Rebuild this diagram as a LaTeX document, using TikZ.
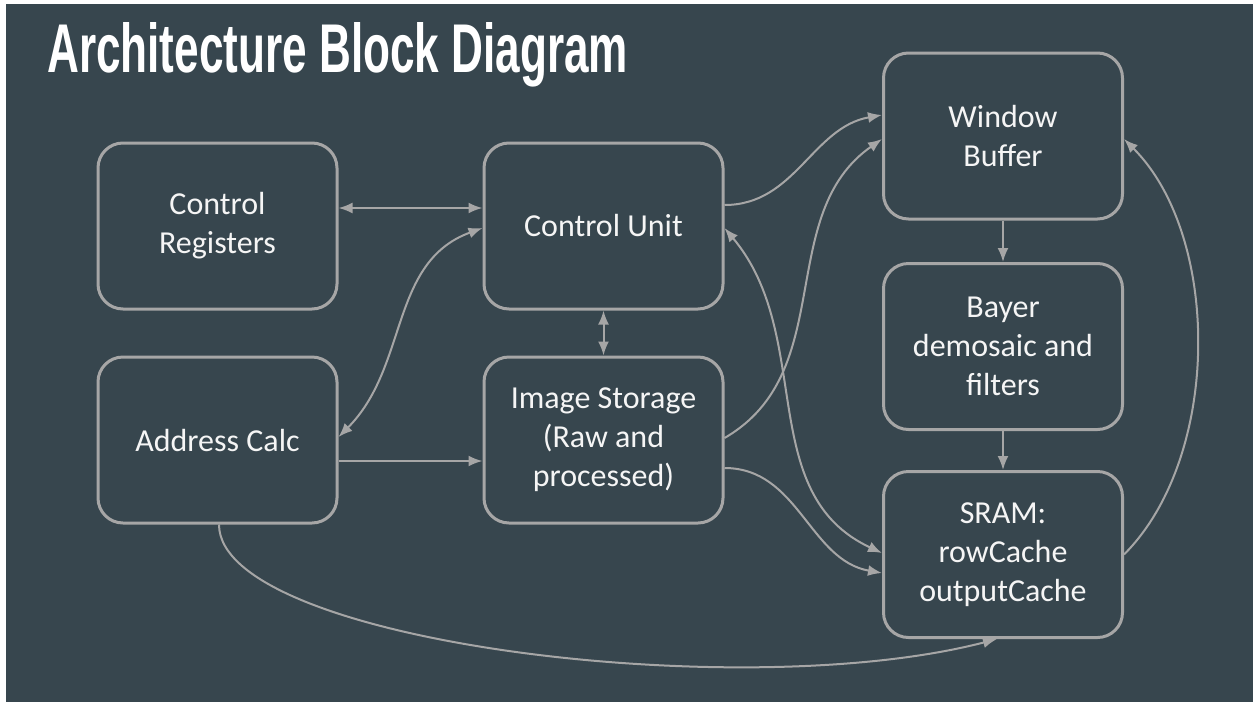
\documentclass[tikz,border=0pt]{standalone}
\usepackage{fontspec}
\setmainfont{Carlito}
\newfontfamily\titlefont{Liberation Sans}
\usepackage{tikz}
\usetikzlibrary{arrows.meta}
\tikzset{>={Latex[width=11pt,length=14pt]}}
\definecolor{slateBg}{RGB}{55,70,78}
\definecolor{wireGray}{RGB}{166,166,166}
\definecolor{labelWhite}{RGB}{245,245,245}

\begin{document}
\begin{tikzpicture}[
    x = 1pt, y = 1pt,
    box/.style = {draw=wireGray, line width=3pt, rounded corners=25pt,
        fill=slateBg, text=labelWhite, align=center,
        minimum width=239pt, minimum height=166pt, inner sep=0pt,
        font=\fontsize{32}{39}\selectfont},
    wire/.style = {draw=wireGray, line width=2pt}
  ]
  \useasboundingbox (0,0) rectangle (1253,-702);
  \fill[white] (0,0) rectangle (1253,-702);
  \fill[slateBg] (6,-4) rectangle (1253,-702);

  \node[anchor=base west, inner sep=0pt, text=white] (title) at (47,-72)
    {\resizebox{581pt}{50pt}{\titlefont\bfseries Architecture Block Diagram}};

  \foreach \name/\x/\y/\txt in {
      creg/217.5/226/{Control\\Registers},
      cunit/603.5/226/{Control Unit},
      addr/217.5/440/{Address Calc},
      store/603.5/440/{Image Storage\\(Raw and\\processed)},
      wbuf/1003/136/{Window\\Buffer},
      bayer/1003/346.5/{Bayer\\demosaic and\\filters},
      sram/1003/554.5/{SRAM:\\rowCache\\outputCache}}
  \node[box] (\name) at (\x,-\y) {\txt};

  % left column and control unit
  \draw[wire,<->] ([yshift=18pt]creg.east) -- ([yshift=18pt]cunit.west);
  \draw[wire,<->] ([yshift=3pt]addr.east) to[out=45,in=200] ([yshift=-2pt]cunit.west);
  \draw[wire,->] ([yshift=-21pt]addr.east) -- ([yshift=-21pt]store.west);
  \draw[wire,<->] (cunit.south) -- (store.north);

  % into the pipeline
  \draw[wire,->] ([yshift=21pt]cunit.east) to[out=0,in=190] ([yshift=21pt]wbuf.west);
  \draw[wire,->] ([yshift=2pt]store.east) to[out=30,in=215] ([yshift=-3pt]wbuf.west);
  \draw[wire,<->] ([yshift=-2pt]cunit.east) to[out=-50,in=155] ([yshift=1.5pt]sram.west);
  \draw[wire,->] ([yshift=-28pt]store.east) to[out=0,in=170] ([yshift=-18.5pt]sram.west);

  \draw[wire,->] (wbuf.south) -- (bayer.north);
  \draw[wire,->] (bayer.south) -- (sram.north);
  \draw[wire,->] (sram.east) to[out=45,in=-45,looseness=0.85] ([yshift=-3pt]wbuf.east);
  \draw[wire,->] ([xshift=1.5pt]addr.south) .. controls +(0,-117) and +(-257,-67) .. ([xshift=-6pt]sram.south);
\end{tikzpicture}
\end{document}
